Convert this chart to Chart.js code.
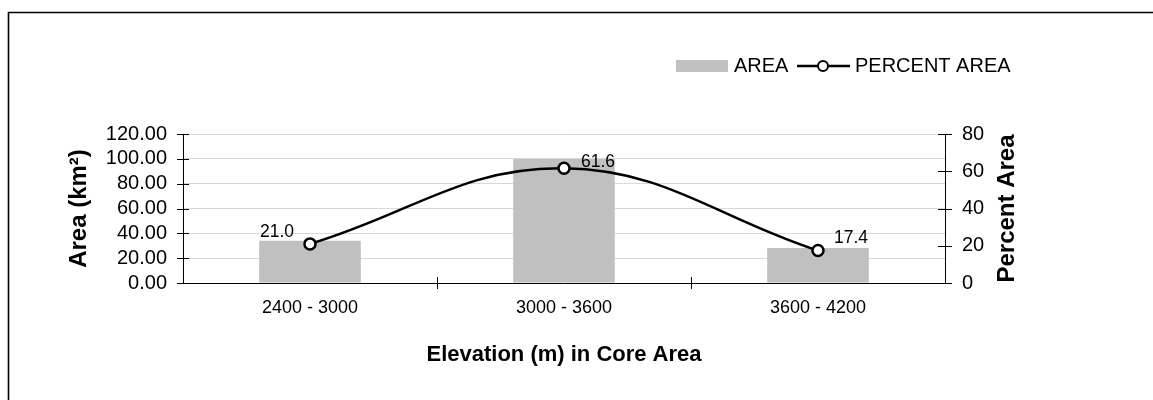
<!DOCTYPE html>
<html>
<head>
<meta charset="utf-8">
<script src="https://cdn.jsdelivr.net/npm/chart.js@4.4.0/dist/chart.umd.min.js"></script>
<style>
  body { margin: 0; background: #fff; }
  #wrap { width: 1153px; height: 400px; }
</style>
</head>
<body>
<div id="wrap"><canvas id="elevChart" width="1153" height="400"></canvas></div>
<script>
const elevationBands = ['2400 - 3000', '3000 - 3600', '3600 - 4200'];
const areaKm2 = [34.0, 99.8, 28.2];
const percentArea = [21.0, 61.6, 17.4];
const areaTicks = [0, 20, 40, 60, 80, 100, 120];
const percentTicks = [0, 20, 40, 60, 80];

const FONT = "Arial, 'Liberation Sans', sans-serif";

// frame, cross ticks, right title, point labels and legend are drawn here
const decorPlugin = {
  id: 'decor',
  beforeDraw(chart) {
    const ctx = chart.ctx;
    ctx.save();
    ctx.fillStyle = '#fff';
    ctx.fillRect(0, 0, chart.width, chart.height);
    ctx.strokeStyle = '#000';
    ctx.lineWidth = 1.6;
    ctx.beginPath();
    ctx.moveTo(8.5, chart.height);
    ctx.lineTo(8.5, 12.5);
    ctx.lineTo(chart.width, 12.5);
    ctx.stroke();
    ctx.restore();
  },
  afterDraw(chart) {
    const ctx = chart.ctx;
    const x = chart.scales.x, y = chart.scales.y, y1 = chart.scales.y1;
    const area = chart.chartArea;
    ctx.save();
    ctx.strokeStyle = '#000';
    ctx.lineWidth = 1;

    // cross ticks on left axis
    areaTicks.forEach(v => {
      const py = Math.round(y.getPixelForValue(v)) + 0.5;
      ctx.beginPath(); ctx.moveTo(area.left - 6, py); ctx.lineTo(area.left + 6, py); ctx.stroke();
    });
    // cross ticks on right axis
    percentTicks.forEach(v => {
      const py = Math.round(y1.getPixelForValue(v)) + 0.5;
      ctx.beginPath(); ctx.moveTo(area.right - 7, py); ctx.lineTo(area.right + 7, py); ctx.stroke();
    });
    // ticks between categories
    for (let i = 0; i < elevationBands.length - 1; i++) {
      const px = Math.round((x.getPixelForTick(i) + x.getPixelForTick(i + 1)) / 2) + 0.5;
      ctx.beginPath(); ctx.moveTo(px, area.bottom - 6); ctx.lineTo(px, area.bottom + 6); ctx.stroke();
    }

    // right axis title, reading bottom to top
    ctx.save();
    ctx.translate(1007, (area.top + area.bottom) / 2);
    ctx.rotate(-Math.PI / 2);
    ctx.fillStyle = '#000';
    ctx.font = 'bold 24px ' + FONT;
    ctx.textAlign = 'center';
    ctx.textBaseline = 'middle';
    ctx.fillText('Percent Area', 0, 0);
    ctx.restore();

    // value labels on the line
    const offs = [[-33, -12], [34, -6], [33, -12]];
    const meta = chart.getDatasetMeta(1);
    ctx.fillStyle = '#000';
    ctx.font = '17.5px ' + FONT;
    ctx.textAlign = 'center';
    ctx.textBaseline = 'middle';
    meta.data.forEach((pt, i) => {
      ctx.fillText(percentArea[i].toFixed(1), pt.x + offs[i][0], pt.y + offs[i][1]);
    });

    // legend
    const ds = chart.data.datasets;
    const ly = 66;
    ctx.textAlign = 'left';
    ctx.font = '20px ' + FONT;
    ctx.fillStyle = ds[0].backgroundColor;
    ctx.fillRect(676, ly - 6, 52, 12);
    ctx.fillStyle = '#000';
    ctx.fillText(ds[0].label, 734, ly);
    ctx.lineWidth = 2.5;
    ctx.beginPath(); ctx.moveTo(797, ly); ctx.lineTo(850, ly); ctx.stroke();
    ctx.beginPath(); ctx.arc(823, ly, 5, 0, Math.PI * 2);
    ctx.fillStyle = '#fff'; ctx.fill();
    ctx.lineWidth = 2; ctx.stroke();
    ctx.fillStyle = '#000';
    ctx.fillText(ds[1].label, 855, ly);
    ctx.restore();
  }
};

function loadElevationChart(canvasName)
{
  new Chart(document.getElementById(canvasName), {
    type: 'bar',
    data: {
      labels: elevationBands,
      datasets: [{
          type: 'bar',
          label: 'AREA',
          data: areaKm2,
          backgroundColor: '#c0c0c0',
          barPercentage: 0.4,
          categoryPercentage: 1.0,
          yAxisID: 'y',
          order: 2
        }, {
          type: 'line',
          label: 'PERCENT AREA',
          data: percentArea,
          borderColor: '#000',
          borderWidth: 2.5,
          tension: 0.4,
          pointRadius: 5.5,
          pointBackgroundColor: '#fff',
          pointBorderColor: '#000',
          pointBorderWidth: 2.5,
          fill: false,
          yAxisID: 'y1',
          order: 1
        }
      ]
    },
    options: {
      responsive: false,
      animation: false,
      layout: { padding: { left: 65, right: 132, top: 134, bottom: 32 } },
      plugins: {
        legend: { display: false },
        tooltip: { enabled: false }
      },
      scales: {
        x: {
          grid: { display: false, drawTicks: false },
          border: { color: '#000', width: 1 },
          ticks: { color: '#000', font: { family: FONT, size: 18 }, padding: 14 },
          title: { display: true, text: 'Elevation (m) in Core Area', color: '#000',
                   font: { family: FONT, size: 22, weight: 'bold' }, padding: 0 },
          afterFit: (s) => { s.height = 85; }
        },
        y: {
          position: 'left',
          min: 0, max: 120,
          ticks: { stepSize: 20, autoSkip: false, color: '#000', font: { family: FONT, size: 20 }, padding: 16,
                   callback: (v) => Number(v).toFixed(2) },
          grid: { color: '#d9d9d9', drawTicks: false },
          border: { color: '#000', width: 1 },
          title: { display: true, text: 'Area (km²)', color: '#000',
                   font: { family: FONT, size: 24, weight: 'bold' }, padding: 0 },
          afterFit: (s) => { s.width = 118; }
        },
        y1: {
          position: 'right',
          min: 0, max: 80,
          ticks: { stepSize: 20, autoSkip: false, color: '#000', font: { family: FONT, size: 20 }, padding: 17 },
          grid: { display: false, drawTicks: false },
          border: { color: '#000', width: 1 },
          title: { display: false },
          afterFit: (s) => { s.width = 76; }
        }
      }
    },
    plugins: [decorPlugin]
  });
}

loadElevationChart('elevChart');
</script>
</body>
</html>
